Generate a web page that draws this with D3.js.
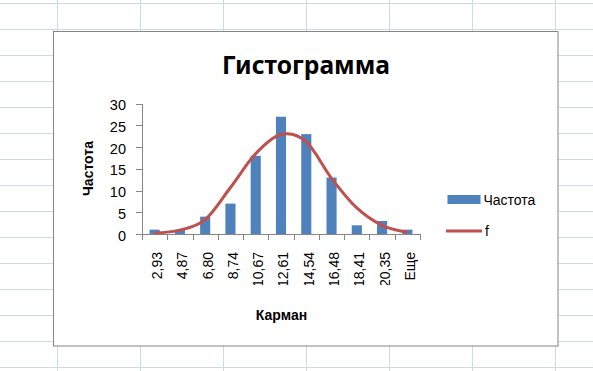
<!DOCTYPE html>
<html>
<head>
<meta charset="utf-8">
<script src="https://cdn.jsdelivr.net/npm/d3@7"></script>
<style>
  body { margin: 0; background: #fff; }
  svg { display: block; font-family: "Liberation Sans", Arial, sans-serif; }
</style>
</head>
<body>
<svg id="chart" width="593" height="371"></svg>
<script>
// bins ("Карман") and counts
var categories = ["2,93", "4,87", "6,80", "8,74", "10,67", "12,61", "14,54", "16,48", "18,41", "20,35", "Еще"];
var frequency = [1, 1, 4, 7, 18, 27, 23, 13, 2, 3, 1];
// fitted curve f
var fValues = [0.25, 0.9, 3.3, 10.7, 18.5, 22.9, 21.2, 12.8, 6.0, 2.0, 0.4];
var yTicks = [0, 5, 10, 15, 20, 25, 30];

var svg = d3.select("#chart");
var W = 593, H = 371;

var barColor = "#4F81BD",
    lineColor = "#C0504D",
    axisColor = "#868686";

// spreadsheet grid behind the chart
var grid = svg.append("g").attr("class", "sheet");
d3.range(0, 8).forEach(function(i) {
    var gx = Math.round(57 + i * 83.05) + 0.5;
    grid.append("line").attr("x1", gx).attr("x2", gx).attr("y1", 0).attr("y2", H)
        .style("stroke", "#d0d7e5");
});
d3.range(0, 15).forEach(function(i) {
    var gy = 3.5 + i * 26;
    grid.append("line").attr("x1", 0).attr("x2", W).attr("y1", gy).attr("y2", gy)
        .style("stroke", "#d0d7e5");
});

// chart area
svg.append("rect")
    .attr("x", 53.5).attr("y", 31.5)
    .attr("width", 504.5).attr("height", 314.5)
    .style("fill", "#fff")
    .style("stroke", axisColor);

var plot = {left: 142, right: 420, top: 103.7, bottom: 234};

var x = d3.scaleBand()
    .domain(categories)
    .range([plot.left, plot.right])
    .paddingInner(0.6)
    .paddingOuter(0.3);

var xEdges = d3.scaleLinear()
    .domain([0, categories.length])
    .range([plot.left, plot.right]);

var y = d3.scaleLinear()
    .domain([0, 30])
    .range([plot.bottom, plot.top]);

// title
svg.append("text")
    .attr("x", 306)
    .attr("y", 74)
    .attr("text-anchor", "middle")
    .attr("textLength", 168)
    .attr("lengthAdjust", "spacingAndGlyphs")
    .style("font", "bold 25px 'Noto Sans', 'Liberation Sans', sans-serif")
    .style("fill", "#000")
    .text("Гистограмма");

// y axis
var yAxis = svg.append("g")
    .attr("class", "axis")
    .attr("transform", "translate(" + plot.left + ",0)")
    .call(d3.axisLeft(y).tickValues(yTicks).tickSize(6).tickSizeOuter(0).tickPadding(10));

yAxis.selectAll("text")
    .style("font-size", "14.5px")
    .style("fill", "#000")
    .attr("dy", "0.42em");

// bars
svg.append("g").selectAll("rect")
    .data(frequency)
    .enter().append("rect")
    .attr("x", function(d, i) { return x(categories[i]); })
    .attr("y", function(d) { return y(d); })
    .attr("width", x.bandwidth())
    .attr("height", function(d) { return y(0) - y(d); })
    .style("fill", barColor);

// x axis: tick marks on bin edges
svg.append("g")
    .attr("class", "axis")
    .attr("transform", "translate(0," + plot.bottom + ")")
    .call(d3.axisBottom(xEdges).tickValues(d3.range(categories.length + 1))
        .tickFormat("").tickSize(6).tickSizeOuter(0));

// x labels, rotated and clipped like the original
svg.append("clipPath").attr("id", "labelclip")
    .append("rect").attr("x", 0).attr("y", 236).attr("width", W).attr("height", 285 - 236);

var xLabels = svg.append("g")
    .attr("clip-path", "url(#labelclip)")
    .append("g")
    .attr("transform", "translate(0," + plot.bottom + ")")
    .call(d3.axisBottom(x).tickSize(0));

xLabels.select(".domain").remove();
xLabels.selectAll("text")
    .attr("transform", "rotate(-90)")
    .attr("x", -18)
    .attr("y", 0)
    .attr("dy", "0.53em")
    .style("text-anchor", "end")
    .style("font-size", "14px")
    .style("fill", "#000");

// fitted curve
var line = d3.line()
    .x(function(d, i) { return x(categories[i]) + x.bandwidth() / 2; })
    .y(function(d) { return y(d); })
    .curve(d3.curveCardinal.tension(0));

svg.append("path")
    .datum(fValues)
    .attr("d", line)
    .style("fill", "none")
    .style("stroke", lineColor)
    .style("stroke-width", 3);

d3.selectAll(".axis path")
    .style("fill", "none")
    .style("stroke", axisColor)
    .style("shape-rendering", "crispEdges");

d3.selectAll(".axis line")
    .style("fill", "none")
    .style("stroke", axisColor)
    .style("shape-rendering", "crispEdges");

// axis titles
svg.append("text")
    .attr("transform", "translate(93,168.5) rotate(-90)")
    .attr("text-anchor", "middle")
    .style("font-weight", "bold")
    .style("font-size", "14px")
    .text("Частота");

svg.append("text")
    .attr("x", 281.5)
    .attr("y", 320)
    .attr("text-anchor", "middle")
    .style("font-weight", "bold")
    .style("font-size", "14px")
    .text("Карман");

// legend
var legend = svg.append("g").attr("class", "legendbox");

legend.append("rect")
    .attr("x", 447.5).attr("y", 195)
    .attr("width", 33).attr("height", 9)
    .style("fill", barColor);

legend.append("text")
    .attr("x", 483.5).attr("y", 205)
    .style("font-size", "14px")
    .text("Частота");

legend.append("line")
    .attr("x1", 446).attr("x2", 482)
    .attr("y1", 231).attr("y2", 231)
    .style("stroke", lineColor)
    .style("stroke-width", 3);

legend.append("text")
    .attr("x", 485).attr("y", 236)
    .style("font-size", "14px")
    .text("f");
</script>
</body>
</html>
